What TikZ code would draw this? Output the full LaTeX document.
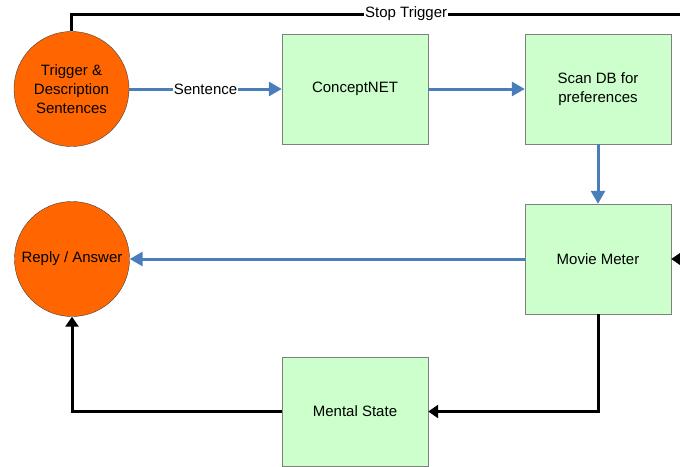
\documentclass[tikz,border=0pt]{standalone}
\usepackage{fontspec}
\setmainfont{Liberation Sans}
\usetikzlibrary{arrows.meta}

\definecolor{flowblue}{HTML}{4A7EBB}
\definecolor{termorange}{HTML}{FF6600}
\definecolor{procgreen}{HTML}{CCFFCC}

\tikzset{
  term/.style={circle, draw=black!75, fill=termorange, minimum size=115pt, inner sep=0pt,
    align=center, font=\fontsize{15}{19}\selectfont},
  proc/.style={rectangle, draw=gray, fill=procgreen, minimum width=146pt, minimum height=110pt,
    inner sep=0pt, align=center, font=\fontsize{15}{19}\selectfont},
  blueflow/.style={draw=flowblue, line width=3pt, -{Triangle[length=13pt,width=14pt]}},
  blackflow/.style={draw=black, line width=3pt, -{Triangle[length=10pt,width=13pt]}},
  flowlabel/.style={fill=white, inner sep=1pt, font=\fontsize{15}{19}\selectfont}
}

\begin{document}
\begin{tikzpicture}[x=1pt,y=-1pt]
\useasboundingbox (0,0) rectangle (680,466);
% terminals
\node[term] (trig) at (71.5,89) {Trigger \&\\Description\\Sentences};
\node[term] (reply) at (72,259) {Reply / Answer};
% processes
\node[proc] (concept) at (355,89) {ConceptNET};
\node[proc] (scan) at (598,89) {Scan DB for\\preferences};
\node[proc] (movie) at (598,259) {Movie Meter};
\node[proc, minimum height=109pt] (mental) at (355,411.5) {Mental State};
% free ends at the right border
\coordinate (stopend) at (680,14);
\coordinate (movein) at (680,259);
% blue flow
\draw[blueflow] (trig) -- node[flowlabel] {Sentence} (concept);
\draw[blueflow] (concept) -- (scan);
\draw[blueflow] (scan) -- (movie);
\draw[blueflow] (movie) -- (reply);
% black flow
\draw[draw=black, line width=3pt] (trig.north) |- node[flowlabel, pos=0.775] {Stop Trigger} (stopend);
\draw[blackflow] (movein) -- (movie.east);
\draw[blackflow] (movie.south) |- (mental.east);
\draw[blackflow] (mental.west) -| (reply.south);
\end{tikzpicture}
\end{document}
